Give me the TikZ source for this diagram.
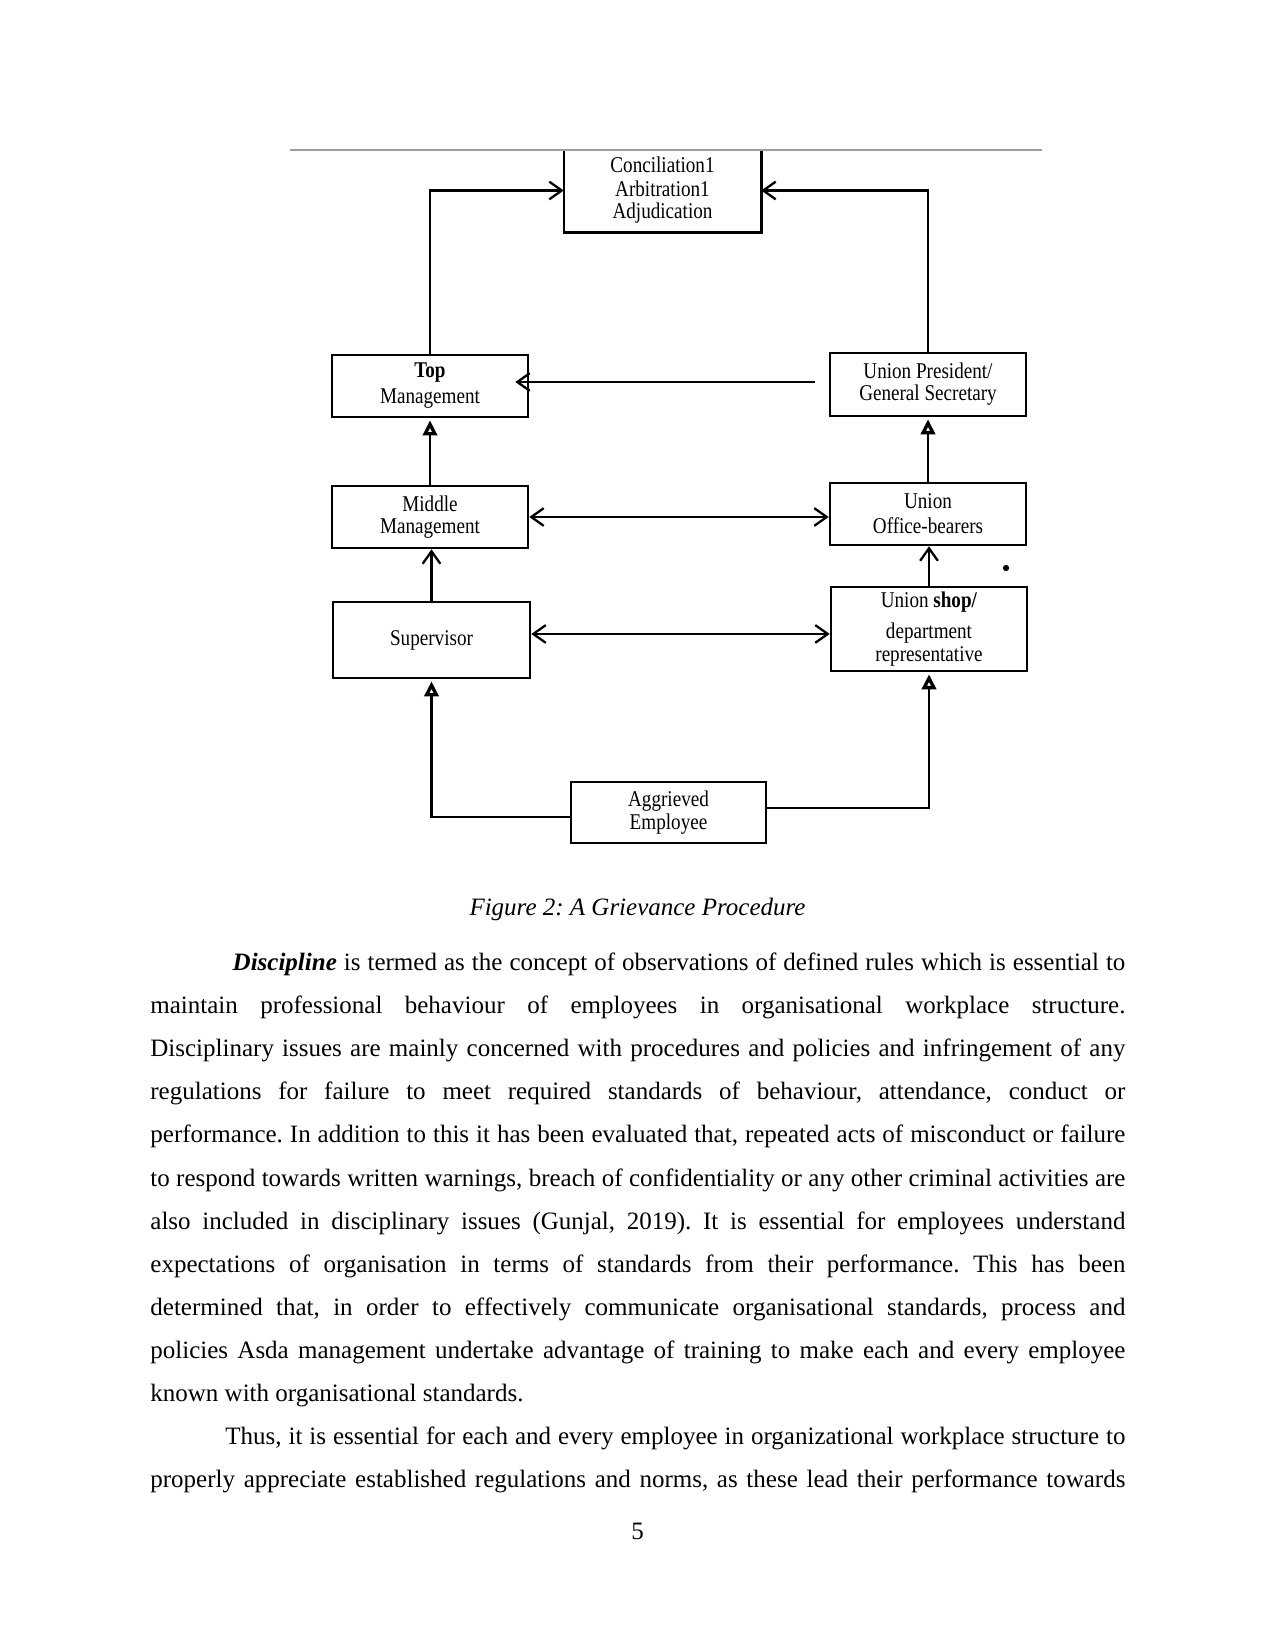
\documentclass[tikz,border=0pt]{standalone}
\usepackage{fontspec}
\setmainfont{Liberation Serif}
\newfontfamily\boxfont[FakeStretch=0.85]{Liberation Serif}
\usetikzlibrary{arrows.meta}
\begin{document}
\begin{tikzpicture}[x=0.48pt,y=-0.48pt,
  box/.style={draw, line width=1.2pt, inner sep=0pt, align=center,
    font=\boxfont\fontsize{10.8}{10.5}\selectfont},
  conn/.style={line width=1.1pt},
  barb/.style={conn,-{Straight Barb[length=6pt,width=8.5pt,line width=1.1pt]}},
  dbarb/.style={conn,{Straight Barb[length=6pt,width=8.5pt,line width=1.1pt]}-{Straight Barb[length=6pt,width=8.5pt,line width=1.1pt]}},
  atip/.style={conn,-{Triangle[open,length=7.2pt,width=6.8pt,line width=1.6pt]},shorten >=1pt}
]
\fill[white] (0,0) rectangle (1275,1651);
\useasboundingbox (0,0) rectangle (1275,1651);

% boxes
\node[box, draw=none, minimum width=93.6pt, minimum height=38.9pt] (conc) at (662.5,190.5)
  {Conciliation1\\[0.8pt]Arbitration1\\[0.3pt]Adjudication};
\node[box, minimum width=94.1pt, minimum height=29.8pt] (tm) at (430,386)
  {\textbf{Top}\\[2pt]Management};
\node[box, minimum width=94.1pt, minimum height=30.2pt] (up) at (928,384.5)
  {Union President/\\General Secretary};
\node[box, minimum width=94.1pt, minimum height=29.8pt] (mm) at (430,517)
  {Middle\\Management};
\node[box, minimum width=94.1pt, minimum height=29.8pt] (uob) at (928,514)
  {Union\\[1.5pt]Office-bearers};
\node[box, minimum width=94.6pt, minimum height=36.5pt] (sup) at (431.5,640)
  {Supervisor};
\node[box, minimum width=94.1pt, minimum height=40.3pt] (ushop) at (929,629)
  {Union \textbf{shop/}\\[4.4pt]department\\[0.5pt]representative};
\node[box, minimum width=93.6pt, minimum height=29.3pt] (agg) at (668.5,812.5)
  {Aggrieved\\[0.5pt]Employee};

% conciliation box sides and top rule
\draw[line width=1.2pt] (conc.north west) -- (conc.south west) -- (conc.south east) -- (conc.north east);
\draw[gray!75, line width=1.2pt] (290,150) -- (1042,150);

% connectors
\draw[barb] (tm.north) |- (conc.west);
\draw[barb] (up.north) |- (conc.east);
\draw[barb] ([xshift=-6.7pt,yshift=1.2pt]up.west) -- ([xshift=-6.7pt,yshift=1.2pt]up.west -| tm.east);
\draw[atip] (mm.north) -- (tm.south);
\draw[atip] (uob.north) -- (up.south);
\draw[barb] (sup.north) -- (sup.north |- mm.south);
\draw[barb] (ushop.north) -- (ushop.north |- uob.south);
\draw[dbarb] (mm.east) -- (mm.east -| uob.west);
\draw[dbarb] ([yshift=2.9pt]sup.east) -- ([yshift=2.9pt]sup.east -| ushop.west);
\draw[atip] ([yshift=-2.2pt]agg.west) -| (sup.south);
\draw[atip] ([yshift=2.2pt]agg.east) -| (ushop.south);

% stray dot
\fill (1006,568) circle[radius=1.5pt];

% caption
\node[anchor=base, inner sep=0pt, font=\itshape\fontsize{12}{14}\selectfont] (cap) at (637.5,915)
  {\frenchspacing Figure 2: A Grievance Procedure};

% body text
\node[anchor=north west, inner sep=0pt] (body) at (150,939.8) {\begin{minipage}{468pt}%
\fontsize{12}{20.7}\selectfont\frenchspacing\parskip=0pt\parindent=0pt\hyphenpenalty=10000\exhyphenpenalty=10000\tolerance=10000%
\strut\hspace*{39.5pt}\textbf{\textit{Discipline}} is termed as the concept of observations of defined rules which is essential to\linebreak
maintain professional behaviour of employees in organisational workplace structure.\linebreak
Disciplinary issues are mainly concerned with procedures and policies and infringement of any\linebreak
regulations for failure to meet required standards of behaviour, attendance, conduct or\linebreak
performance. In addition to this it has been evaluated that, repeated acts of misconduct or failure\linebreak
to respond towards written warnings, breach of confidentiality or any other criminal activities are\linebreak
also included in disciplinary issues (Gunjal, 2019). It is essential for employees understand\linebreak
expectations of organisation in terms of standards from their performance. This has been\linebreak
determined that, in order to effectively communicate organisational standards, process and\linebreak
policies Asda management undertake advantage of training to make each and every employee\linebreak
known with organisational standards.\par
\hspace*{36pt}Thus, it is essential for each and every employee in organizational workplace structure to\linebreak
properly appreciate established regulations and norms, as these lead their performance towards{\parfillskip=0pt\par}
\end{minipage}};

% page number
\node[anchor=base, inner sep=0pt, font=\fontsize{12}{14}\selectfont] (pg) at (637.5,1539) {5};
\end{tikzpicture}
\end{document}
